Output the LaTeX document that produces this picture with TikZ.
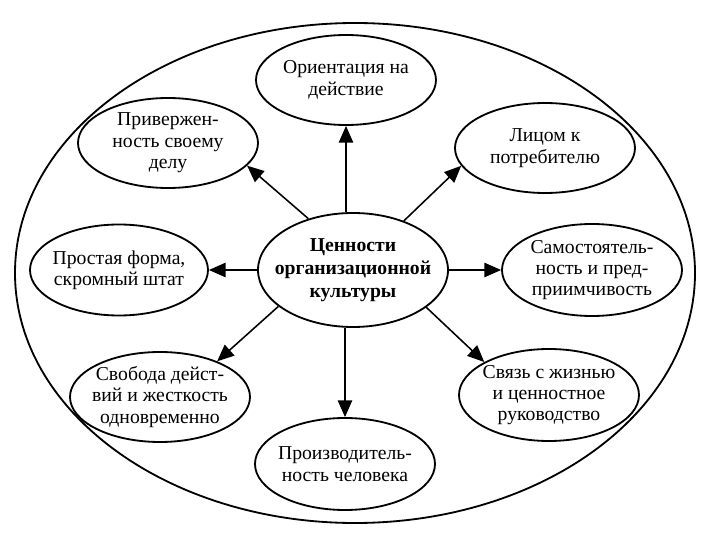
\documentclass[tikz,border=0pt]{standalone}
\usepackage{fontspec}
\setmainfont{Liberation Serif}
\usetikzlibrary{arrows.meta, shapes.geometric}

\begin{document}
\begin{tikzpicture}[
  >={Triangle[length=4.2mm, width=3.6mm]},
  every node/.style={text=black},
  value/.style={ellipse, draw, line width=1.3pt, minimum width=4.5cm, minimum height=2.25cm, inner xsep=-5mm, inner ysep=0pt, align=center, font=\fontsize{14}{15.2}\selectfont},
  core/.style={ellipse, draw, line width=1.3pt, minimum width=4.75cm, minimum height=2.85cm, inner xsep=-6mm, inner ysep=0pt, align=center, font=\fontsize{14}{16.5}\selectfont\bfseries},
  arr/.style={->, line width=1.1pt},
]

% Background
\fill[white] (0,0) rectangle (18,13.5);

% Outer ellipse
\draw[line width=1.3pt] (8.875,6.675) ellipse [x radius=8.5cm, y radius=6.25cm];

% Centre
\node[core] (values) at (8.825,6.75) {Ценности\\организационной\\культуры};

% Values around the centre
\node[value] (action) at (8.65,11.5) {Ориентация на\\действие};
\node[value] (devotion) at (4.2,9.925) {Привержен-\\ность своему\\делу};
\node[value] (client) at (13.625,9.8) {Лицом к\\потребителю};
\node[value, minimum width=4.45cm, minimum height=2.275cm] (simple) at (2.975,6.75) {Простая форма,\\скромный штат};
\node[value, minimum height=2.3cm] (autonomy) at (14.8,6.75) {Самостоятель-\\ность и пред-\\приимчивость};
\node[value] (freedom) at (4.0,3.575) {Свобода дейст-\\вий и жесткость\\одновременно};
\node[value, minimum height=2.3cm] (life) at (13.725,3.625) {Связь с жизнью\\и ценностное\\руководство};
\node[value, minimum height=2.3cm] (output) at (8.625,1.9) {Производитель-\\ность человека};

% Arrows
\draw[arr] (values.north -| action) -- (action.south);
\draw[arr] (values.131) -- (devotion.-16);
\draw[arr] (values.44) -- (client.-168);
\draw[arr] (values.west) -- (simple.east);
\draw[arr] (values.east) -- (autonomy.west);
\draw[arr] (values.206) -- (freedom.32);
\draw[arr] (values.-27) -- (life.153);
\draw[arr] (values.south -| output) -- (output.north);

\end{tikzpicture}
\end{document}
